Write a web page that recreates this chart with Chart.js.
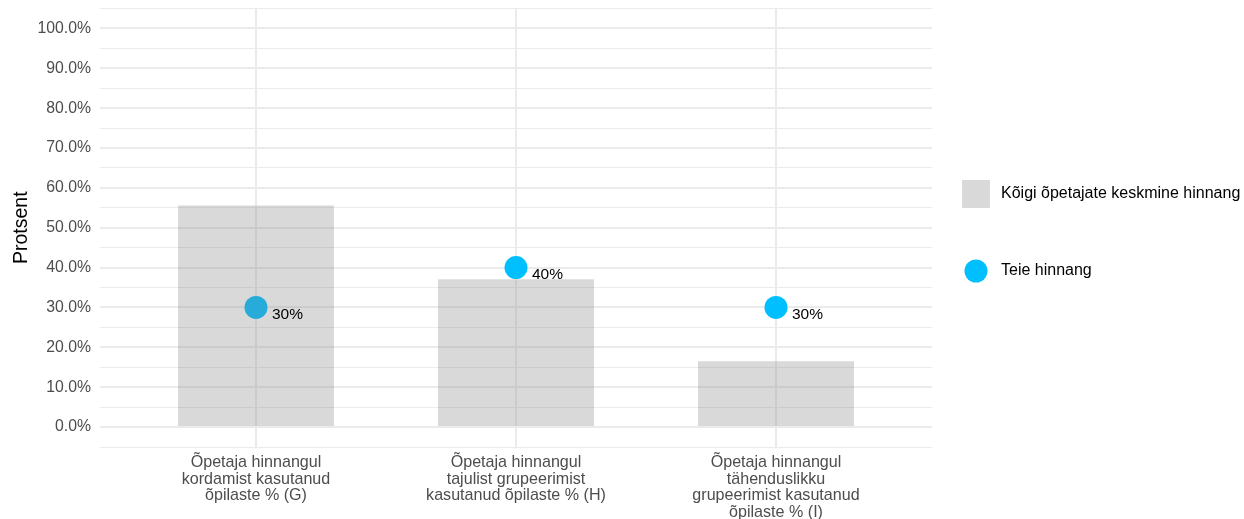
<!DOCTYPE html>
<html>
<head>
<meta charset="utf-8">
<title>Protsent</title>
<script src="https://cdn.jsdelivr.net/npm/chart.js@4/dist/chart.umd.min.js"></script>
<style>
    html, body { margin: 0; padding: 0; background: #fff; }
    #wrap { width: 1244px; height: 519px; }
</style>
</head>
<body>
<div id="wrap"><canvas id="chart" width="1244" height="519"></canvas></div>
<script>
// Category labels, one array entry per line
const categories = [
    ['Õpetaja hinnangul', 'kordamist kasutanud', 'õpilaste % (G)'],
    ['Õpetaja hinnangul', 'tajulist grupeerimist', 'kasutanud õpilaste % (H)'],
    ['Õpetaja hinnangul', 'tähenduslikku', 'grupeerimist kasutanud', 'õpilaste % (I)']
];
const seriesNames = ['Kõigi õpetajate keskmine hinnang', 'Teie hinnang'];
const averageValues = [55.6, 37.1, 16.5];
const teacherValues = [30, 40, 30];

const FONT = '"Liberation Sans", Arial, Helvetica, sans-serif';
const GRID = '#ebebeb';
const BAR_COLOR = 'rgba(128, 128, 128, 0.3)';
const POINT_COLOR = '#00bfff';

// categories sit at 1..n on a linear axis so the panel can be padded like ggplot
const positions = categories.map((_, i) => i + 1);

Chart.defaults.font.family = FONT;

// "30%" style labels next to each point
const pointLabels = {
    id: 'pointLabels',
    afterDatasetsDraw(chart) {
        const meta = chart.getDatasetMeta(1);
        const ctx = chart.ctx;
        ctx.save();
        ctx.font = '15.5px ' + FONT;
        ctx.fillStyle = '#000';
        ctx.textBaseline = 'alphabetic';
        ctx.textAlign = 'left';
        meta.data.forEach((pt, i) => {
            ctx.fillText(teacherValues[i] + '%', pt.x + 16, pt.y + 11.7);
        });
        ctx.restore();
    }
};

// legend on the right: grey key for bars, round key for points
const sideLegend = {
    id: 'sideLegend',
    afterDraw(chart) {
        const ctx = chart.ctx;
        const ds = chart.data.datasets;
        ctx.save();
        ctx.font = '16px ' + FONT;
        ctx.textBaseline = 'middle';

        ctx.fillStyle = ds[0].backgroundColor;
        ctx.fillRect(962, 180, 28, 28);
        ctx.fillStyle = '#000';
        ctx.fillText(ds[0].label, 1001, 194);

        ctx.fillStyle = ds[1].backgroundColor;
        ctx.beginPath();
        ctx.arc(976, 271, 11.5, 0, Math.PI * 2);
        ctx.fill();
        ctx.fillStyle = '#000';
        ctx.fillText(ds[1].label, 1001, 271);
        ctx.restore();
    }
};

const ctx = document.getElementById('chart');
new Chart(ctx, {
    type: 'bar',
    data: {
        datasets: [
            {
                type: 'bar',
                label: seriesNames[0],
                data: positions.map((x, i) => ({ x, y: averageValues[i] })),
                backgroundColor: BAR_COLOR,
                borderWidth: 0,
                categoryPercentage: 0.6,
                barPercentage: 1,
                order: 1
            },
            {
                type: 'scatter',
                label: seriesNames[1],
                data: positions.map((x, i) => ({ x, y: teacherValues[i] })),
                backgroundColor: POINT_COLOR,
                borderWidth: 0,
                pointRadius: 11.5,
                pointHoverRadius: 11.5,
                order: 2
            }
        ]
    },
    options: {
        responsive: false,
        animation: false,
        events: [],
        layout: {
            autoPadding: false,
            padding: { top: 8.5, right: 312, bottom: 0, left: 0 }
        },
        plugins: {
            legend: { display: false },
            tooltip: { enabled: false }
        },
        scales: {
            x: {
                type: 'linear',
                min: 0.4,
                max: 3.6,
                offset: false,
                afterBuildTicks: (scale) => {
                    scale.ticks = positions.map(v => ({ value: v }));
                },
                afterFit: (scale) => {
                    scale.height = 72;
                    scale.paddingLeft = 0;
                    scale.paddingRight = 0;
                },
                border: { display: false },
                grid: { offset: false, drawTicks: false, color: GRID, lineWidth: 2 },
                ticks: {
                    autoSkip: false,
                    maxRotation: 0,
                    padding: 7,
                    color: '#4d4d4d',
                    font: { size: 16.1, lineHeight: 1.04 },
                    callback: (value) => categories[Math.round(value) - 1] || ''
                }
            },
            y: {
                min: -5,
                max: 105,
                afterFit: (scale) => {
                    scale.width = 100;
                    scale.paddingTop = 0;
                    scale.paddingBottom = 0;
                },
                border: { display: false },
                grid: {
                    drawTicks: false,
                    color: GRID,
                    lineWidth: (c) => (c.tick && c.tick.value % 10 === 0 ? 2 : 1)
                },
                ticks: {
                    stepSize: 5,
                    autoSkip: false,
                    padding: 9,
                    color: '#4d4d4d',
                    font: { size: 15.8 },
                    callback: (value) => (value % 10 === 0 ? value.toFixed(1) + '%' : '')
                },
                title: {
                    display: true,
                    text: 'Protsent',
                    color: '#000',
                    font: { size: 19.5 },
                    padding: { top: 10, bottom: 0 }
                }
            }
        }
    },
    plugins: [pointLabels, sideLegend]
});
</script>
</body>
</html>
